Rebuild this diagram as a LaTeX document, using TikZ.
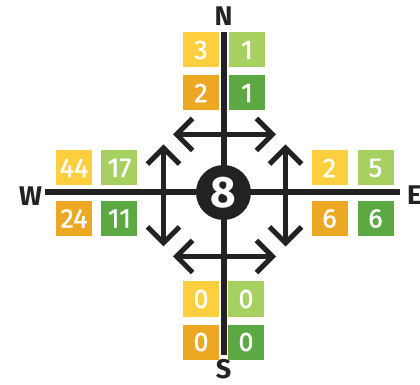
\documentclass[tikz,border=0pt]{standalone}
\usepackage{fontspec}
\setmainfont{Fira Sans}
\usetikzlibrary{arrows.meta}
\definecolor{cntyellow}{HTML}{FDCF3E}
\definecolor{cntorange}{HTML}{ECA823}
\definecolor{cntlight}{HTML}{A6D060}
\definecolor{cntdark}{HTML}{5CA944}
\definecolor{ink}{HTML}{222222}
\begin{document}
\begin{tikzpicture}[x=1pt,y=1pt,every node/.style={font=\fontsize{27}{27}\selectfont}]
    \tikzset{
      count/.style={minimum width=36pt,minimum height=35pt,inner sep=0pt,text=white,
        font=\fontsize{27}{27}\selectfont\addfontfeature{FakeBold=1.2}},
      axis/.style={line width=6pt,ink},
      turn/.style={line width=5pt,ink,{Straight Barb[length=16pt,width=32pt]}-{Straight Barb[length=16pt,width=32pt]}},
      dir/.style={ink,font=\fontsize{27}{27}\selectfont\bfseries}
    }
    \useasboundingbox (-223.5,-192.5) rectangle (196.5,192.5);

    % compass letters and axis ends
    \node[dir] (n) at (0,176) {N};
    \node[dir] (s) at (0,-177) {S};
    \node[dir] (w) at (-193,-3.5) {W};
    \node[dir,anchor=west] (e) at (180,-3) {E};
    \coordinate (nend) at (0,160.5);
    \coordinate (send) at (0,-162.5);
    \coordinate (wend) at (-178.5,0);
    \coordinate (eend) at (176.5,0);
    \draw[axis] (nend) -- (send);
    \draw[axis] (wend) -- (eend);

    % turning arrows
    \coordinate (tl) at (-50.5,58);
    \coordinate (tr) at (52.5,58);
    \coordinate (bl) at (-50.5,-64);
    \coordinate (br) at (52.5,-64);
    \coordinate (lt) at (-60,48);
    \coordinate (lb) at (-60,-54);
    \coordinate (rt) at (62,48);
    \coordinate (rb) at (62,-54);
    \draw[turn] (tl) -- (tr);
    \draw[turn] (bl) -- (br);
    \draw[turn] (lt) -- (lb);
    \draw[turn] (rt) -- (rb);

    \node[circle,fill=ink,minimum size=55pt,inner sep=0pt,text=white,
      font=\fontsize{44}{44}\selectfont\bfseries] (hub) at (0,0) {8};

    % north
    \node[count,fill=cntyellow] (n1) at (-22.5,142.5) {3};
    \node[count,fill=cntlight] (n2) at (23.5,142.5) {1};
    \node[count,fill=cntorange] (n3) at (-22.5,99.5) {2};
    \node[count,fill=cntdark] (n4) at (23.5,99.5) {1};

    % west
    \node[count,fill=cntyellow] (w1) at (-149.5,24.5) {44};
    \node[count,fill=cntlight] (w2) at (-104,24.5) {17};
    \node[count,fill=cntorange] (w3) at (-149.5,-26) {24};
    \node[count,fill=cntdark] (w4) at (-104,-26) {11};

    % east
    \node[count,fill=cntyellow] (e1) at (106,24.5) {2};
    \node[count,fill=cntlight] (e2) at (152,24.5) {5};
    \node[count,fill=cntorange] (e3) at (106,-26) {6};
    \node[count,fill=cntdark] (e4) at (152,-26) {6};

    % south
    \node[count,fill=cntyellow] (s1) at (-22.5,-106.5) {0};
    \node[count,fill=cntlight] (s2) at (22.5,-106.5) {0};
    \node[count,fill=cntorange] (s3) at (-22.5,-149.5) {0};
    \node[count,fill=cntdark] (s4) at (22.5,-149.5) {0};
  \end{tikzpicture}
\end{document}
